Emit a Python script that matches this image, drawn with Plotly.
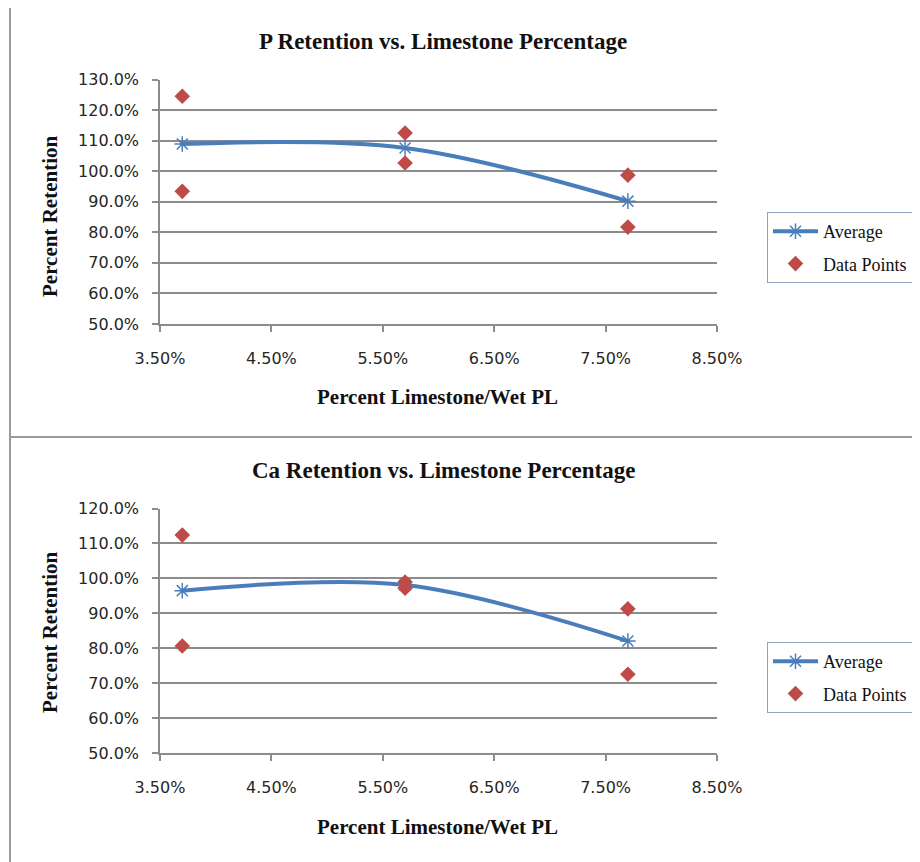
import plotly.graph_objects as go

# ---- data ----
limestone_pct = [0.037, 0.057, 0.077]

p_average = [1.089, 1.076, 0.902]
p_points_x = [0.037, 0.037, 0.057, 0.057, 0.077, 0.077]
p_points_y = [1.245, 0.934, 1.125, 1.027, 0.987, 0.817]

ca_average = [0.965, 0.981, 0.821]
ca_points_x = [0.037, 0.037, 0.057, 0.057, 0.077, 0.077]
ca_points_y = [1.124, 0.807, 0.990, 0.972, 0.913, 0.726]

titles = ["P Retention vs. Limestone Percentage", "Ca Retention vs. Limestone Percentage"]
x_title = "Percent Limestone/Wet PL"
y_title = "Percent Retention"

W, H = 920, 862
OFF = 8  # page body margin
LINE_C = "#4A7EBB"
DIAM_C = "#BE4B48"
GRID_C = "#8C8C8C"
SERIF = "Liberation Serif"
TICKF = dict(family="DejaVu Sans", size=16, color="#262626")

def px(x):
    return (x - OFF) / W

def py(y):
    return 1 - (y - OFF) / H

fig = go.Figure()

for i, (avg, ptx, pty) in enumerate([(p_average, p_points_x, p_points_y),
                                      (ca_average, ca_points_x, ca_points_y)]):
    xa = "x" if i == 0 else "x2"
    ya = "y" if i == 0 else "y2"
    lg = "legend" if i == 0 else "legend2"
    fig.add_trace(go.Scatter(
        x=limestone_pct, y=avg, mode="lines+markers", name="Average",
        line=dict(color=LINE_C, width=4, shape="spline", smoothing=1.0),
        marker=dict(symbol="asterisk-open", size=13, color=LINE_C,
                    line=dict(color=LINE_C, width=1.5)),
        legendgroup="avg%d" % i,
        xaxis=xa, yaxis=ya, legend=lg))
    fig.add_trace(go.Scatter(
        x=ptx, y=pty, mode="markers", name="Data Points",
        marker=dict(symbol="diamond", size=12, color=DIAM_C),
        legendgroup="pts%d" % i,
        xaxis=xa, yaxis=ya, legend=lg))

x_dom = [px(160), px(717)]
top_dom = [py(324), py(79.5)]
bot_dom = [py(753.3), py(508.5)]

xcommon = dict(range=[0.035, 0.085], dtick=0.01, tick0=0.035, tickformat=".2%",
               showgrid=False, showline=True, linecolor=GRID_C, linewidth=1.5,
               ticks="outside", ticklen=6, tickcolor=GRID_C, tickwidth=1.5,
               tickfont=TICKF, ticklabelstandoff=13, zeroline=False, fixedrange=True,
               automargin=False)
ycommon = dict(tickformat=".1%", dtick=0.1, showgrid=True, gridcolor=GRID_C, gridwidth=1.5,
               showline=True, linecolor=GRID_C, linewidth=1.5,
               ticks="outside", ticklen=6, tickcolor=GRID_C, tickwidth=1.5,
               tickfont=TICKF, ticklabelstandoff=10, zeroline=False, fixedrange=True,
               automargin=False)

legcommon = dict(font=dict(family=SERIF, size=18, color="#111"), bordercolor="#8EA4BE",
                 borderwidth=1, bgcolor="white", xanchor="left", yanchor="top",
                 tracegroupgap=6, itemwidth=45)

fig.update_layout(
    width=W, height=H, margin=dict(l=0, r=0, t=0, b=0, autoexpand=False),
    paper_bgcolor="white", plot_bgcolor="white",
    xaxis=dict(domain=x_dom, anchor="y", **xcommon),
    yaxis=dict(domain=top_dom, anchor="x", range=[0.5, 1.3], **ycommon),
    xaxis2=dict(domain=x_dom, anchor="y2", **xcommon),
    yaxis2=dict(domain=bot_dom, anchor="x2", range=[0.5, 1.2], **ycommon),
    legend=dict(x=px(767), y=py(212), **legcommon),
    legend2=dict(x=px(767), y=py(642), **legcommon),
    showlegend=True,
)

annots = []
for title, ty, xty, yty in [(titles[0], 42, 397, 217), (titles[1], 470, 827, 633)]:
    annots.append(dict(text="<b>%s</b>" % title, x=px(443), y=py(ty), xref="paper", yref="paper",
                       showarrow=False, xanchor="center", yanchor="middle",
                       font=dict(family=SERIF, size=23, color="#111")))
    annots.append(dict(text="<b>%s</b>" % x_title, x=px(437), y=py(xty), xref="paper", yref="paper",
                       showarrow=False, xanchor="center", yanchor="middle",
                       font=dict(family=SERIF, size=21, color="#111")))
    annots.append(dict(text="<b>%s</b>" % y_title, x=px(50), y=py(yty), xref="paper", yref="paper",
                       showarrow=False, xanchor="center", yanchor="middle", textangle=-90,
                       font=dict(family=SERIF, size=21, color="#111")))
fig.update_layout(annotations=annots)

BORDER = "#9A9A9A"
fig.update_layout(shapes=[
    dict(type="line", xref="paper", yref="paper", x0=px(10), x1=1, y0=py(7), y1=py(7),
         line=dict(color=BORDER, width=2)),
    dict(type="line", xref="paper", yref="paper", x0=px(10), x1=px(10), y0=py(7), y1=0,
         line=dict(color=BORDER, width=2)),
    dict(type="line", xref="paper", yref="paper", x0=px(10), x1=1, y0=py(437), y1=py(437),
         line=dict(color=BORDER, width=2)),
])

fig.write_html("out.html")
